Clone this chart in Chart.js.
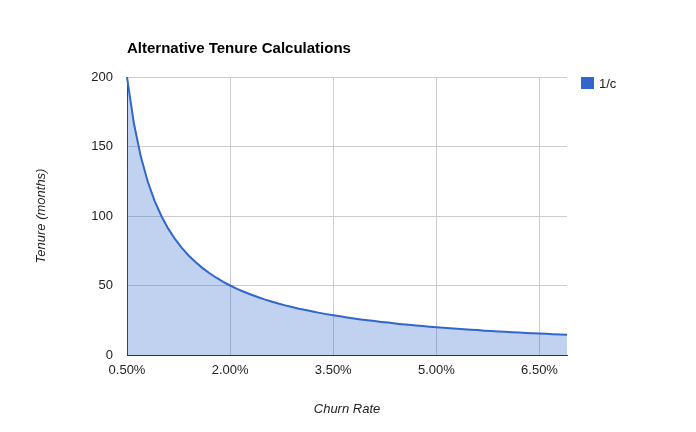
<!DOCTYPE html>
<html>
<head>
<meta charset="utf-8">
<script src="https://cdn.jsdelivr.net/npm/chart.js@4"></script>
<style>
  html, body { margin: 0; padding: 0; background: #fff; }
  #wrap { width: 696px; height: 432px; }
</style>
</head>
<body>
<div id="wrap"><canvas id="grafico" width="696" height="432"></canvas></div>
<script>
// churn rate (%) per point
const rates = [0.5, 0.6, 0.7, 0.8, 0.9, 1.0, 1.1, 1.2, 1.3, 1.4, 1.5, 1.6, 1.7, 1.8, 1.9,
  2.0, 2.1, 2.2, 2.3, 2.4, 2.5, 2.6, 2.7, 2.8, 2.9, 3.0, 3.1, 3.2, 3.3, 3.4,
  3.5, 3.6, 3.7, 3.8, 3.9, 4.0, 4.1, 4.2, 4.3, 4.4, 4.5, 4.6, 4.7, 4.8, 4.9,
  5.0, 5.1, 5.2, 5.3, 5.4, 5.5, 5.6, 5.7, 5.8, 5.9, 6.0, 6.1, 6.2, 6.3, 6.4,
  6.5, 6.6, 6.7, 6.8, 6.9];

// tenure in months (1/c)
const tenure = [200, 166.7, 142.9, 125, 111.1, 100, 90.9, 83.3, 76.9, 71.4, 66.7, 62.5, 58.8, 55.6, 52.6,
  50, 47.6, 45.5, 43.5, 41.7, 40, 38.5, 37, 35.7, 34.5, 33.3, 32.3, 31.3, 30.3, 29.4,
  28.6, 27.8, 27, 26.3, 25.6, 25, 24.4, 23.8, 23.3, 22.7, 22.2, 21.7, 21.3, 20.8, 20.4,
  20, 19.6, 19.2, 18.9, 18.5, 18.2, 17.9, 17.5, 17.2, 16.9, 16.7, 16.4, 16.1, 15.9, 15.6,
  15.4, 15.2, 14.9, 14.7, 14.5];

const xTickEvery = 15;
const yTicks = [0, 50, 100, 150, 200];

const FONT = 'Arial, "Liberation Sans", sans-serif';
const azul = '#3366cc';

// titulo e legenda desenhados a mao, posicao fixa
const extras = {
    id: 'extras',
    afterDraw(chart) {
        const ctx = chart.ctx;
        ctx.save();
        ctx.fillStyle = '#000';
        ctx.font = 'bold 15px ' + FONT;
        ctx.textBaseline = 'alphabetic';
        ctx.textAlign = 'left';
        ctx.fillText('Alternative Tenure Calculations', 127, 53);

        ctx.fillStyle = azul;
        ctx.fillRect(581, 77, 13, 12);
        ctx.fillStyle = '#222';
        ctx.font = '13px ' + FONT;
        ctx.fillText('1/c', 599, 88);
        ctx.restore();
    }
};

new Chart(document.getElementById('grafico'), {
    type: 'line',
    data: {
        labels: rates.map(r => r.toFixed(2) + '%'),
        datasets: [{
            label: '1/c',
            data: tenure,
            borderColor: azul,
            backgroundColor: 'rgba(51, 102, 204, 0.3)',
            borderWidth: 2,
            fill: 'origin',
            pointRadius: 0,
            tension: 0
        }]
    },
    options: {
        responsive: false,
        animation: false,
        layout: { padding: { top: 77, right: 129, left: 0, bottom: 0 } },
        plugins: {
            legend: { display: false },
            title: { display: false },
            tooltip: { enabled: false }
        },
        scales: {
            x: {
                offset: false,
                afterFit(s) { s.height = 77; },
                grid: {
                    color: c => (c.index % xTickEvery === 0 ? '#cccccc' : 'rgba(0,0,0,0)'),
                    drawTicks: false
                },
                border: { color: '#333', width: 1 },
                ticks: {
                    autoSkip: false,
                    maxRotation: 0,
                    padding: 8,
                    color: '#222',
                    font: { size: 13, family: FONT },
                    callback(v, i) { return i % xTickEvery === 0 ? this.getLabelForValue(v) : ''; }
                },
                title: {
                    display: true,
                    text: 'Churn Rate',
                    color: '#222',
                    font: { size: 13, style: 'italic', family: FONT },
                    padding: { top: 0, bottom: 15 }
                }
            },
            y: {
                min: yTicks[0],
                max: yTicks[yTicks.length - 1],
                afterFit(s) { s.width = 127; },
                afterBuildTicks(s) { s.ticks = yTicks.map(v => ({ value: v })); },
                grid: { color: '#cccccc', drawTicks: false },
                border: { color: '#333', width: 1 },
                ticks: {
                    padding: 14,
                    color: '#222',
                    font: { size: 13, family: FONT }
                },
                title: {
                    display: true,
                    text: 'Tenure (months)',
                    color: '#222',
                    font: { size: 13, style: 'italic', family: FONT },
                    padding: { top: 34, bottom: 0 }
                }
            }
        }
    },
    plugins: [extras]
});
</script>
</body>
</html>
